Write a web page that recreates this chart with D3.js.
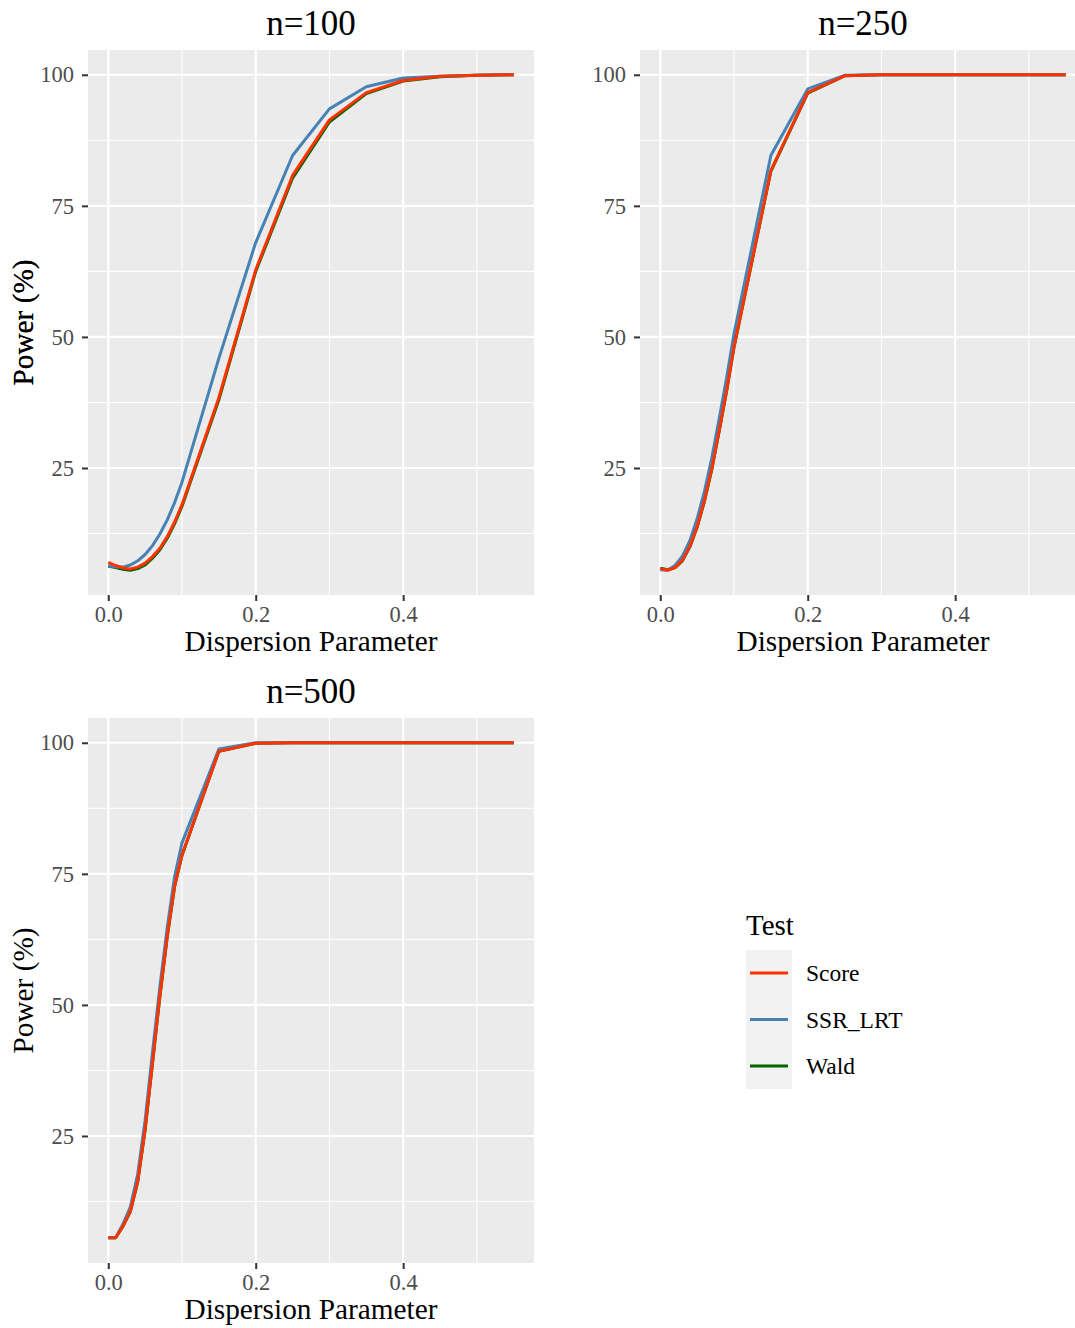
<!DOCTYPE html>
<html>
<head>
<meta charset="utf-8">
<script src="https://cdn.jsdelivr.net/npm/d3@7"></script>
<style>
  html, body { margin: 0; padding: 0; background: #ffffff; }
  svg { display: block; }
  text { font-family: "Liberation Serif", "Times New Roman", serif; }
</style>
</head>
<body>
<svg id="chart" width="1075" height="1328"></svg>
<script>
// ---------------- data ----------------
const panelTitles = ["n=100", "n=250", "n=500"];
const testNames = ["Score", "SSR_LRT", "Wald"];
const testColors = ["#FF3300", "#4682B4", "#006400"];
const dispersion = [0, 0.01, 0.02, 0.03, 0.04, 0.05, 0.06, 0.07, 0.08, 0.09, 0.1,
                    0.15, 0.2, 0.25, 0.3, 0.35, 0.4, 0.45, 0.5, 0.55];
const xTicks = [0, 0.2, 0.4];
const xMinor = [0.1, 0.3, 0.5];
const yTicks = [25, 50, 75, 100];
const yMinor = [12.5, 37.5, 62.5, 87.5];

const score100 = [7.0, 6.4, 5.95, 5.75, 6.1, 6.85, 8.1, 9.7, 11.9, 14.7, 18.0, 38.4, 62.8, 80.8, 91.4, 96.6, 98.9, 99.7, 99.9, 100];
const ssr100   = [6.35, 6.1, 6.1, 6.5, 7.3, 8.5, 10.2, 12.4, 15.1, 18.4, 22.3, 45.9, 68.0, 84.6, 93.5, 97.7, 99.4, 99.7, 99.9, 100];
const wald100  = [6.3, 6.0, 5.7, 5.5, 5.8, 6.5, 7.8, 9.4, 11.6, 14.4, 17.7, 38.0, 62.5, 80.3, 91.0, 96.4, 98.8, 99.6, 99.9, 100];

const score250 = [5.8, 5.5, 6.0, 7.4, 10.0, 13.8, 18.8, 24.9, 32.2, 39.8, 48.1, 81.7, 96.6, 99.8, 100, 100, 100, 100, 100, 100];
const ssr250   = [5.6, 5.5, 6.4, 8.2, 11.1, 15.3, 20.6, 27.0, 34.5, 42.2, 50.6, 84.6, 97.3, 99.9, 100, 100, 100, 100, 100, 100];
const wald250  = [5.9, 5.6, 6.0, 7.3, 9.9, 13.7, 18.7, 24.8, 32.1, 39.7, 48.0, 81.6, 96.5, 99.8, 100, 100, 100, 100, 100, 100];

const score500 = [5.6, 5.6, 7.8, 10.7, 16.4, 26.3, 39.0, 51.7, 63.1, 72.7, 78.6, 98.4, 99.9, 100, 100, 100, 100, 100, 100, 100];
const ssr500   = [5.6, 5.6, 8.2, 11.5, 17.8, 28.0, 41.0, 53.5, 64.8, 74.5, 80.9, 98.8, 100, 100, 100, 100, 100, 100, 100, 100];
const wald500  = [5.6, 5.6, 7.8, 10.6, 16.3, 26.2, 38.9, 51.6, 63.0, 72.6, 78.5, 98.4, 99.9, 100, 100, 100, 100, 100, 100, 100];

const panelSeries = [
  [score100, ssr100, wald100],
  [score250, ssr250, wald250],
  [score500, ssr500, wald500]
];

// ---------------- layout ----------------
const svg = d3.select("#chart");
const panelW = 446, panelH = 545;
const panelPos = [[88, 50], [640, 50], [88, 718]];

// shared scales (ggplot-like 5% expansion)
const xExt = d3.extent(dispersion);
const xPad = (xExt[1] - xExt[0]) * 0.05;
const allY = panelSeries.flat(2);
const yExt = d3.extent(allY);
const yPad = (yExt[1] - yExt[0]) * 0.05;

const x = d3.scaleLinear().domain([xExt[0] - xPad, xExt[1] + xPad]).range([0, panelW]);
const y = d3.scaleLinear().domain([yExt[0] - yPad, yExt[1] + yPad]).range([panelH, 0]);

const line = d3.line().x((d) => x(d[0])).y((d) => y(d[1]));

panelTitles.forEach((title, pi) => {
  const [px, py] = panelPos[pi];
  const g = svg.append("g").attr("transform", `translate(${px},${py})`);

  // background
  g.append("rect").attr("width", panelW).attr("height", panelH).attr("fill", "#EBEBEB");

  // minor grid
  g.selectAll(".vminor").data(xMinor).enter().append("line")
    .attr("x1", (d) => x(d)).attr("x2", (d) => x(d)).attr("y1", 0).attr("y2", panelH)
    .attr("stroke", "#ffffff").attr("stroke-width", 1.1);
  g.selectAll(".hminor").data(yMinor).enter().append("line")
    .attr("y1", (d) => y(d)).attr("y2", (d) => y(d)).attr("x1", 0).attr("x2", panelW)
    .attr("stroke", "#ffffff").attr("stroke-width", 1.1);
  // major grid
  g.selectAll(".vmajor").data(xTicks).enter().append("line")
    .attr("x1", (d) => x(d)).attr("x2", (d) => x(d)).attr("y1", 0).attr("y2", panelH)
    .attr("stroke", "#ffffff").attr("stroke-width", 2.2);
  g.selectAll(".hmajor").data(yTicks).enter().append("line")
    .attr("y1", (d) => y(d)).attr("y2", (d) => y(d)).attr("x1", 0).attr("x2", panelW)
    .attr("stroke", "#ffffff").attr("stroke-width", 2.2);

  // lines: draw Wald, SSR_LRT, then Score on top
  const order = [2, 1, 0];
  order.forEach((ti) => {
    const vals = panelSeries[pi][ti];
    const pts = dispersion.map((d, i) => [d, vals[i]]);
    g.append("path").datum(pts).attr("d", line)
      .attr("fill", "none").attr("stroke", testColors[ti])
      .attr("stroke-width", 3).attr("stroke-linejoin", "round").attr("stroke-linecap", "butt");
  });

  // x axis
  const xAxis = d3.axisBottom(x).tickValues(xTicks).tickFormat(d3.format(".1f"))
    .tickSize(6).tickPadding(5);
  const xg = g.append("g").attr("transform", `translate(0,${panelH})`).call(xAxis);
  xg.select(".domain").remove();
  xg.selectAll(".tick line").attr("stroke", "#333333").attr("stroke-width", 2);
  xg.selectAll(".tick text").attr("fill", "#4D4D4D").style("font-size", "22.5px")
    .style("font-family", "Liberation Serif");

  // y axis
  const yAxis = d3.axisLeft(y).tickValues(yTicks).tickFormat(d3.format("d"))
    .tickSize(6).tickPadding(8);
  const yg = g.append("g").call(yAxis);
  yg.select(".domain").remove();
  yg.selectAll(".tick line").attr("stroke", "#333333").attr("stroke-width", 2);
  yg.selectAll(".tick text").attr("fill", "#4D4D4D").style("font-size", "22.5px")
    .style("font-family", "Liberation Serif");

  // title
  g.append("text").attr("x", panelW / 2).attr("y", -15)
    .attr("text-anchor", "middle").style("font-size", "35px").attr("fill", "#000")
    .text(title);

  // axis titles
  g.append("text").attr("x", panelW / 2).attr("y", panelH + 56)
    .attr("text-anchor", "middle").style("font-size", "29.3px").attr("fill", "#000")
    .text("Dispersion Parameter");
  g.append("text")
    .attr("transform", `translate(${-px + 33},${panelH / 2}) rotate(-90)`)
    .attr("text-anchor", "middle").style("font-size", "29.3px").attr("fill", "#000")
    .text("Power (%)");
});

// ---------------- legend ----------------
const lg = svg.append("g").attr("transform", "translate(746,913)");
lg.append("text").attr("x", 0).attr("y", 22).style("font-size", "29px").attr("fill", "#000").text("Test");
lg.append("rect").attr("x", 0).attr("y", 37).attr("width", 46).attr("height", 139).attr("fill", "#F2F2F2");
testNames.forEach((name, i) => {
  const cy = 60 + i * 46.5;
  lg.append("line").attr("x1", 4).attr("x2", 42).attr("y1", cy).attr("y2", cy)
    .attr("stroke", testColors[i]).attr("stroke-width", 3);
  lg.append("text").attr("x", 60).attr("y", cy).attr("dy", "0.35em")
    .style("font-size", "23.5px").attr("fill", "#000").text(name);
});
</script>
</body>
</html>
